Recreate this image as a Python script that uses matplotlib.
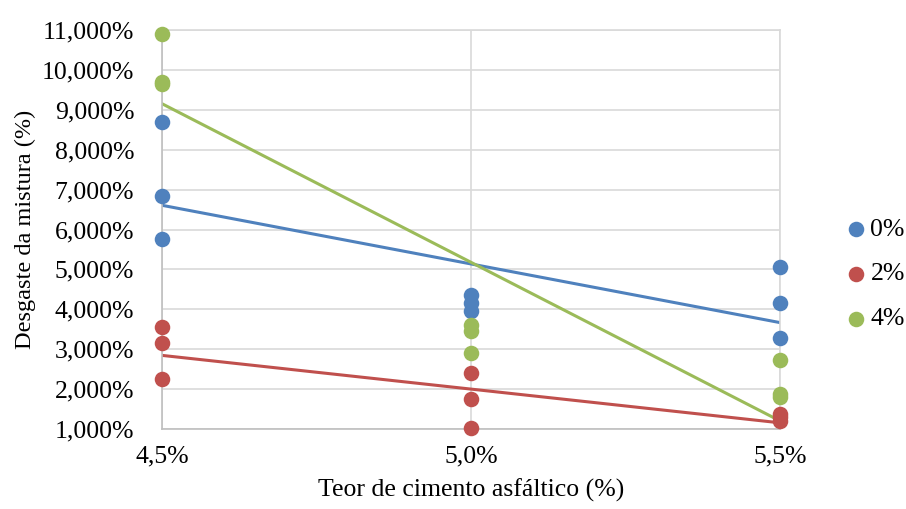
import matplotlib
matplotlib.use("Agg")
import matplotlib.pyplot as plt
from matplotlib.ticker import FuncFormatter, MultipleLocator
import numpy as np

plt.rcParams['font.family'] = ['Liberation Serif', 'DejaVu Serif']

# teor de cimento asfáltico (%) e desgaste (%) por série
teor = [4.5, 4.5, 4.5, 5.0, 5.0, 5.0, 5.5, 5.5, 5.5]
desgaste_0 = [8.70, 6.85, 5.75, 4.35, 4.15, 3.95, 5.05, 4.15, 3.28]
desgaste_2 = [3.55, 3.15, 2.25, 2.40, 1.75, 1.02, 1.38, 1.30, 1.20]
desgaste_4 = [10.90, 9.70, 9.65, 3.60, 3.45, 2.90, 2.72, 1.88, 1.80]
series = ['0%', '2%', '4%']
cores = ['#4F81BD', '#C0504D', '#9BBB59']

fig = plt.figure(figsize=(9.06, 5.09), dpi=100)
ax = fig.add_axes([162/906, 1-429/509, (780-162)/906, (429-30)/509])

x = np.array(teor)
for dados, nome, cor in zip([desgaste_0, desgaste_2, desgaste_4], series, cores):
    y = np.array(dados)
    ax.scatter(x, y, s=125, color=cor, label=nome, zorder=3, clip_on=False, linewidths=0)
    # linha de tendência linear
    a, b = np.polyfit(x, y, 1)
    xs = np.array([4.5, 5.5])
    ax.plot(xs, a*xs + b, color=cor, lw=2.2, zorder=2)

ax.set_xlim(4.5, 5.5)
ax.set_ylim(1, 11)
ax.xaxis.set_major_locator(MultipleLocator(0.5))
ax.yaxis.set_major_locator(MultipleLocator(1))
ax.xaxis.set_major_formatter(FuncFormatter(lambda v, p: f"{v:.1f}%".replace('.', ',')))
ax.yaxis.set_major_formatter(FuncFormatter(lambda v, p: f"{v:,.3f}%".replace('.', ',')))
ax.grid(True, color='#D9D9D9', lw=1.2, zorder=0)
for s in ax.spines.values():
    s.set_color('#D9D9D9')
    s.set_linewidth(1.2)
ax.spines['left'].set_color('#BFBFBF')
ax.spines['bottom'].set_color('#BFBFBF')
ax.tick_params(length=0, labelsize=18.5)
ax.tick_params(axis='y', pad=20)
ax.tick_params(axis='x', pad=12)

ax.set_xlabel('Teor de cimento asfáltico (%)', fontsize=18.5, labelpad=8)
ax.set_ylabel('Desgaste da mistura (%)', fontsize=17.5, labelpad=4)

ax.legend(loc='center left', bbox_to_anchor=(846/906, 1-274/509),
          bbox_transform=fig.transFigure, frameon=False, borderpad=0,
          fontsize=18.5, handlelength=0.8, handletextpad=0.15,
          labelspacing=0.85, borderaxespad=0)

fig.savefig('out.png', dpi=100)
